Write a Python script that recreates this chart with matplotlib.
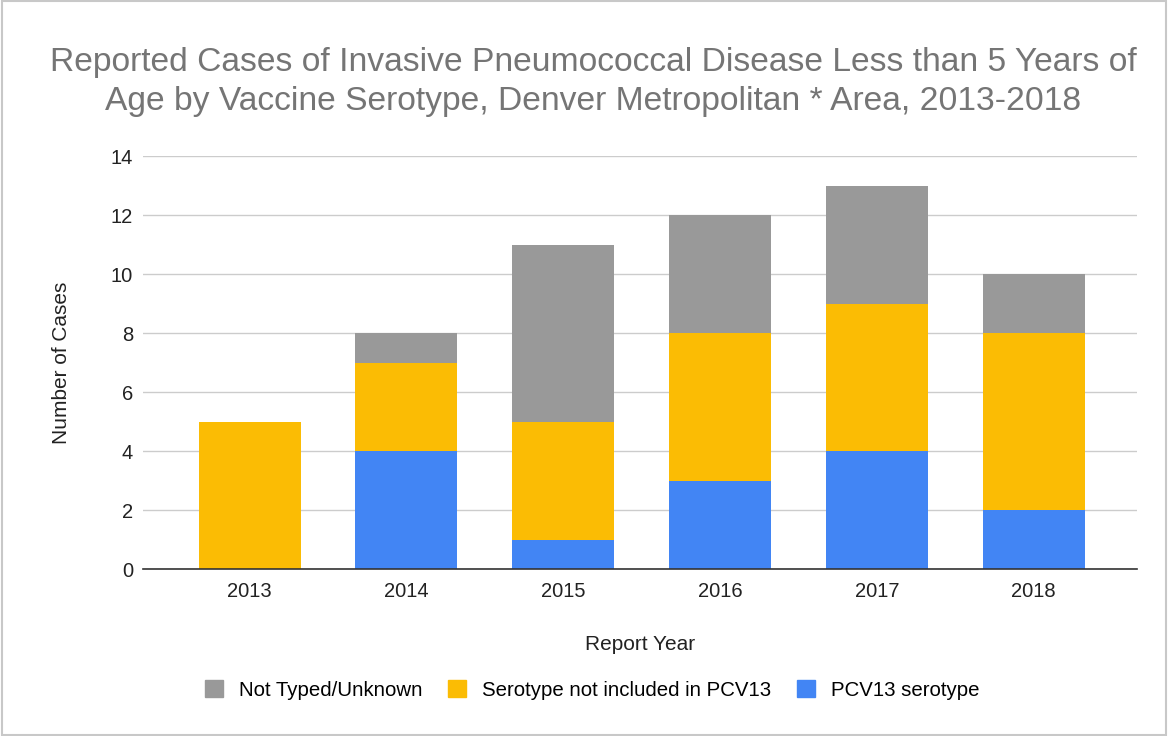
import matplotlib.pyplot as plt
import matplotlib.patches as mpatches
import numpy as np

plt.rcParams['font.family'] = ['Liberation Sans', 'DejaVu Sans']

years = ['2013', '2014', '2015', '2016', '2017', '2018']
pcv13 = [0, 4, 1, 3, 4, 2]
not_in_pcv13 = [5, 3, 4, 5, 5, 6]
unknown = [0, 1, 6, 4, 4, 2]

c_blue = '#4285F4'
c_yellow = '#FBBC04'
c_gray = '#999999'

fig = plt.figure(figsize=(11.68, 7.36), dpi=100)
ax = fig.add_axes([0.1224, 0.2269, 0.8511, 0.5611])

x = np.arange(len(years))
w = 0.65
pcv13 = np.array(pcv13)
not_in_pcv13 = np.array(not_in_pcv13)
unknown = np.array(unknown)

ax.bar(x, pcv13, w, color=c_blue, zorder=3)
ax.bar(x, not_in_pcv13, w, bottom=pcv13, color=c_yellow, zorder=3)
ax.bar(x, unknown, w, bottom=pcv13 + not_in_pcv13, color=c_gray, zorder=3)

ax.set_xlim(-0.68, 5.66)
ax.set_ylim(0, 14)
ax.set_yticks(range(0, 15, 2))
ax.set_xticks(x)
ax.set_xticklabels(years)
ax.tick_params(axis='both', length=0, labelsize=14.5, colors='#222222')
ax.tick_params(axis='y', pad=7)
ax.tick_params(axis='x', pad=9)
ax.grid(axis='y', color='#cccccc', linewidth=1, zorder=0)
for s in ['top', 'right', 'left']:
    ax.spines[s].set_visible(False)
ax.spines['bottom'].set_color('#333333')
ax.spines['bottom'].set_linewidth(1.2)
ax.spines['bottom'].set_zorder(4)

ax.set_ylabel('Number of Cases', fontsize=15, color='#222222', labelpad=29)
fig.text(0.548, 1 - 644 / 736, 'Report Year', fontsize=15, color='#222222',
         ha='center', va='center')

fig.text(0.508, 1 - 82 / 736,
         'Reported Cases of Invasive Pneumococcal Disease Less than 5 Years of\n'
         'Age by Vaccine Serotype, Denver Metropolitan * Area, 2013-2018',
         fontsize=24.2, color='#757575', ha='center', va='center',
         linespacing=1.32)

handles = [mpatches.Patch(color=c_gray, label='Not Typed/Unknown'),
           mpatches.Patch(color=c_yellow, label='Serotype not included in PCV13'),
           mpatches.Patch(color=c_blue, label='PCV13 serotype')]
fig.legend(handles=handles, loc='center', bbox_to_anchor=(0.507, 1 - 690 / 736),
           ncol=3, frameon=False, fontsize=14.7, handlelength=0.87, handleheight=0.87,
           handletextpad=0.8, columnspacing=1.25)

fig.patches.append(mpatches.Rectangle((0.002, 0.002), 0.996, 0.996,
                                      transform=fig.transFigure, fill=False,
                                      edgecolor='#c8c8c8', linewidth=1.5))

fig.savefig('out.png', dpi=100)
